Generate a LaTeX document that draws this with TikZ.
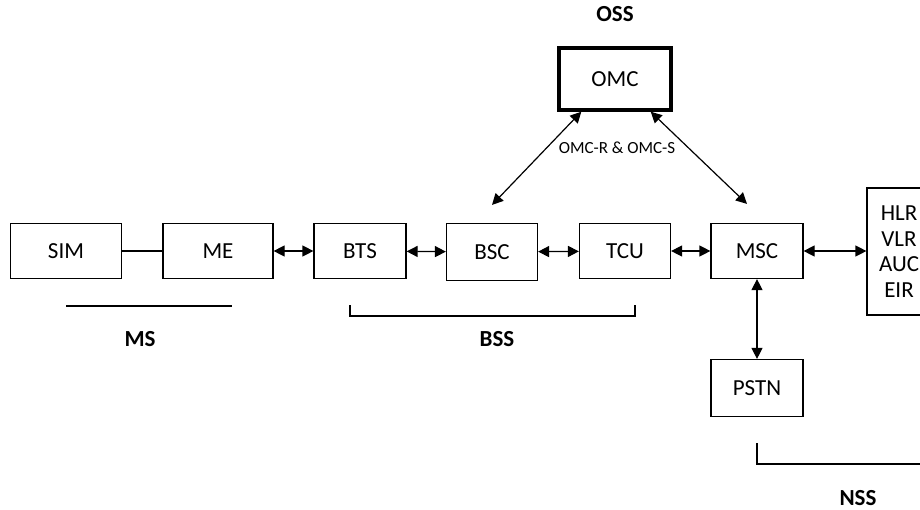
\documentclass[tikz,border=0pt]{standalone}
\usepackage{fontspec}
\setmainfont{Carlito}
\usetikzlibrary{arrows.meta}
\begin{document}
\begin{tikzpicture}[
  x=0.5pt, y=-0.5pt,
  unitbox/.style={rectangle, draw, line width=0.6pt, inner sep=0pt,
    minimum height=27.5pt, font=\fontsize{11.5}{13.5}\selectfont},
  omcbox/.style={rectangle, draw, line width=1.7pt, inner sep=0pt,
    minimum width=56pt, minimum height=31pt, font=\fontsize{11.5}{13.5}\selectfont},
  dbbox/.style={rectangle, draw, line width=0.6pt, inner sep=0pt, align=center,
    minimum width=32pt, minimum height=63.5pt, font=\fontsize{11.5}{12.8}\selectfont},
  grouplabel/.style={font=\fontsize{11.5}{13.5}\selectfont\bfseries},
  linklabel/.style={font=\fontsize{8.5}{10}\selectfont},
  biarr/.style={{Triangle[length=5.5pt,width=5.5pt]}-{Triangle[length=5.5pt,width=5.5pt]}, line width=0.6pt},
  plain/.style={line width=0.6pt},
]
\useasboundingbox (0,0) rectangle (920,509);

% Row of network elements
\def\yrow{251}

% ============================================================
% MS
% ============================================================
\node[unitbox, minimum width=55.5pt] (sim) at (66, \yrow) {SIM};
\node[unitbox, minimum width=55pt]   (me)  at (218, \yrow) {ME};
\draw[plain] (sim) -- (me);

\draw[plain] (66,306) -- (232,306);
\node[grouplabel] (ms) at (140,339) {MS};

% ============================================================
% BSS
% ============================================================
\node[unitbox, minimum width=46pt] (bts) at (360, \yrow) {BTS};
\node[unitbox, minimum width=45.5pt, minimum height=28.5pt] (bsc) at (492, 252) {BSC};
\node[unitbox, minimum width=45.5pt] (tcu) at (625, \yrow) {TCU};

\draw[biarr] (me) -- (bts);
\draw[biarr] (bts) -- (bsc);
\draw[biarr] (bsc) -- (tcu);

\draw[plain] (350,305) -- (350,316) -- (635,316) -- (635,305);
\node[grouplabel] (bss) at (497,339) {BSS};

% ============================================================
% NSS
% ============================================================
\node[unitbox, minimum width=46pt] (msc) at (757, \yrow) {MSC};
\node[dbbox] (db) at (899,251.5) {HLR\\VLR\\AUC\\EIR};
\node[unitbox, minimum width=46pt, minimum height=28.5pt] (pstn) at (757,388) {PSTN};

\draw[biarr] (tcu) -- (msc);
\draw[biarr] (msc) -- (db.west |- msc);
\draw[biarr] (msc) -- (pstn);

\draw[plain] (757,443) -- (757,464) -- (940,464);
\node[grouplabel] (nss) at (858,498) {NSS};

% ============================================================
% OSS
% ============================================================
\node[omcbox] (omc) at (615,79) {OMC};
\node[grouplabel] (oss) at (615,14) {OSS};

\draw[biarr] ([xshift=12pt]omc.south west) -- ([yshift=9pt]bsc.north);
\draw[biarr] ([xshift=-11pt]omc.south east) -- ([xshift=-5pt,yshift=9.5pt]msc.north);
\node[linklabel] (omclink) at (617,148) {OMC-R \& OMC-S};

\end{tikzpicture}
\end{document}
